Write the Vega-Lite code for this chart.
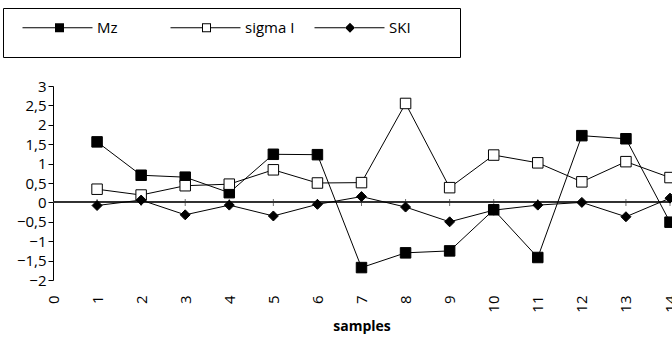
{
  "$schema": "https://vega.github.io/schema/vega-lite/v6.json",
  "width": 617,
  "height": 194,
  "autosize": {"type": "none"},
  "padding": {"left": 53, "top": 86, "right": 2, "bottom": 58},
  "background": "white",
  "config": {
    "view": {"stroke": null},
    "font": "Open Sans"
  },
  "data": {
    "values": [
      {"sample": 1, "series": "Mz", "value": 1.56},
      {"sample": 2, "series": "Mz", "value": 0.70},
      {"sample": 3, "series": "Mz", "value": 0.65},
      {"sample": 4, "series": "Mz", "value": 0.25},
      {"sample": 5, "series": "Mz", "value": 1.24},
      {"sample": 6, "series": "Mz", "value": 1.23},
      {"sample": 7, "series": "Mz", "value": -1.68},
      {"sample": 8, "series": "Mz", "value": -1.30},
      {"sample": 9, "series": "Mz", "value": -1.25},
      {"sample": 10, "series": "Mz", "value": -0.19},
      {"sample": 11, "series": "Mz", "value": -1.42},
      {"sample": 12, "series": "Mz", "value": 1.72},
      {"sample": 13, "series": "Mz", "value": 1.64},
      {"sample": 14, "series": "Mz", "value": -0.51},
      {"sample": 1, "series": "sigma I", "value": 0.34},
      {"sample": 2, "series": "sigma I", "value": 0.19},
      {"sample": 3, "series": "sigma I", "value": 0.43},
      {"sample": 4, "series": "sigma I", "value": 0.47},
      {"sample": 5, "series": "sigma I", "value": 0.84},
      {"sample": 6, "series": "sigma I", "value": 0.50},
      {"sample": 7, "series": "sigma I", "value": 0.51},
      {"sample": 8, "series": "sigma I", "value": 2.55},
      {"sample": 9, "series": "sigma I", "value": 0.38},
      {"sample": 10, "series": "sigma I", "value": 1.22},
      {"sample": 11, "series": "sigma I", "value": 1.02},
      {"sample": 12, "series": "sigma I", "value": 0.53},
      {"sample": 13, "series": "sigma I", "value": 1.05},
      {"sample": 14, "series": "sigma I", "value": 0.64},
      {"sample": 1, "series": "SKI", "value": -0.08},
      {"sample": 2, "series": "SKI", "value": 0.06},
      {"sample": 3, "series": "SKI", "value": -0.32},
      {"sample": 4, "series": "SKI", "value": -0.07},
      {"sample": 5, "series": "SKI", "value": -0.35},
      {"sample": 6, "series": "SKI", "value": -0.05},
      {"sample": 7, "series": "SKI", "value": 0.15},
      {"sample": 8, "series": "SKI", "value": -0.12},
      {"sample": 9, "series": "SKI", "value": -0.50},
      {"sample": 10, "series": "SKI", "value": -0.20},
      {"sample": 11, "series": "SKI", "value": -0.07},
      {"sample": 12, "series": "SKI", "value": 0.00},
      {"sample": 13, "series": "SKI", "value": -0.37},
      {"sample": 14, "series": "SKI", "value": 0.11}
    ]
  },
  "encoding": {
    "x": {
      "field": "sample",
      "type": "quantitative",
      "scale": {"domain": [0, 14], "nice": false, "zero": false},
      "axis": {
        "title": "samples",
        "titleFont": "Open Sans",
        "titleFontSize": 14,
        "titleFontWeight": "bold",
        "titleColor": "black",
        "titlePadding": 7,
        "values": [0,1,2,3,4,5,6,7,8,9,10,11,12,13,14],
        "labelAngle": 270,
        "labelFont": "Open Sans",
        "labelFontSize": 15,
        "labelColor": "black",
        "labelPadding": 15,
        "labelFlush": false,
        "labelOverlap": false,
        "domain": false,
        "ticks": false,
        "grid": false
      }
    },
    "y": {
      "field": "value",
      "type": "quantitative",
      "scale": {"domain": [-2, 3], "nice": false},
      "axis": {
        "title": null,
        "values": [-2,-1.5,-1,-0.5,0,0.5,1,1.5,2,2.5,3],
        "labelExpr": "replace(format(datum.value, ''), '.', ',')",
        "labelFont": "Open Sans",
        "labelFontSize": 15,
        "labelColor": "black",
        "labelPadding": 2,
        "tickSize": 5,
        "tickColor": "black",
        "domainColor": "black",
        "grid": false,
        "labelFlush": false
      }
    }
  },
  "layer": [
    {
      "mark": {"type": "rule", "color": "#333", "strokeWidth": 1.2},
      "encoding": {"y": {"datum": 0}, "x": {"datum": 0}, "x2": {"datum": 14}}
    },
    {
      "transform": [{"filter": "datum.series === 'Mz'"}],
      "mark": {"type": "tick", "orient": "vertical", "color": "#333", "size": 7, "thickness": 1},
      "encoding": {"y": {"datum": 0}}
    },
    {
      "mark": {"type": "line", "color": "black", "strokeWidth": 1},
      "encoding": {"detail": {"field": "series"}}
    },
    {
      "mark": {"type": "point", "filled": true, "fill": "black", "stroke": "black", "strokeWidth": 1, "opacity": 0},
      "encoding": {
        "shape": {
          "field": "series",
          "type": "nominal",
          "scale": {
            "domain": ["Mz", "sigma I", "SKI"],
            "range": [
              "M0,-0.1H6.5V0.1H0ZM8.3,-0.1H14V0.1H8.3ZM6.5,-0.9H8.3V0.9H6.5ZM0,-3M27.6,3",
              "M0,-0.1H6.3V0.1H0ZM8.1,-0.1H14V0.1H8.1ZM6.3,-0.9H8.1V0.9H6.3ZM6.5,-0.7V0.7H7.9V-0.7ZM0,-3M26.9,3",
              "M0,-0.1H6.1V0.1H0ZM8.1,-0.1H14V0.1H8.1ZM7.1,-1L8.1,0L7.1,1L6.1,0ZM0,-3M26.2,3"
            ]
          },
          "legend": {
            "orient": "none",
            "legendX": -50,
            "legendY": -78,
            "direction": "horizontal",
            "columns": 3,
            "title": null,
            "padding": 12,
            "strokeColor": "black",
            "fillColor": "white",
            "labelFont": "Open Sans",
            "labelFontSize": 15,
            "labelColor": "black",
            "labelOffset": 67,
            "columnPadding": 0,
            "symbolOpacity": 1,
            "symbolSize": 100,
            "symbolStrokeColor": "black",
            "symbolStrokeWidth": 1
          }
        },
        "fill": {
          "field": "series",
          "type": "nominal",
          "scale": {"domain": ["Mz", "sigma I", "SKI"], "range": ["black", "black", "black"]},
          "legend": {
            "orient": "none",
            "legendX": -50,
            "legendY": -78,
            "direction": "horizontal",
            "columns": 3,
            "title": null,
            "padding": 12,
            "strokeColor": "black",
            "fillColor": "white",
            "labelFont": "Open Sans",
            "labelFontSize": 15,
            "labelColor": "black",
            "labelOffset": 67,
            "columnPadding": 0,
            "symbolOpacity": 1,
            "symbolSize": 100,
            "symbolStrokeColor": "black",
            "symbolStrokeWidth": 1
          }
        }
      }
    },
    {
      "transform": [{"filter": "datum.series !== 'SKI'"}],
      "mark": {"type": "point", "shape": "square", "filled": true, "stroke": "black", "strokeWidth": 1, "opacity": 1, "size": 110},
      "encoding": {
        "fill": {"condition": {"test": "datum.series === 'sigma I'", "value": "white"}, "value": "black"}
      }
    },
    {
      "transform": [{"filter": "datum.series === 'SKI'"}],
      "mark": {"type": "point", "shape": "diamond", "filled": true, "fill": "black", "stroke": "black", "strokeWidth": 1, "opacity": 1, "size": 100},
      "encoding": {}
    }
  ]
}
